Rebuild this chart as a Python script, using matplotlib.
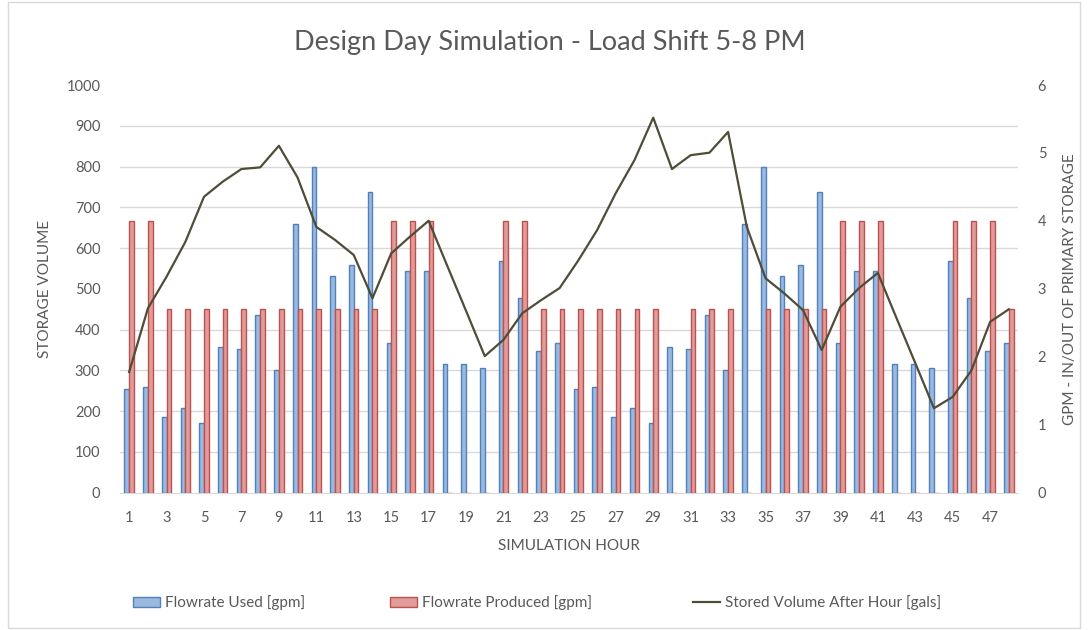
import numpy as np
import matplotlib
matplotlib.use("Agg")
import matplotlib.pyplot as plt
from matplotlib.patches import Patch, Rectangle
from matplotlib.lines import Line2D

plt.rcParams['font.family'] = ['Lato', 'DejaVu Sans']

hours = list(range(1, 49))

# Flowrate used [gpm] (right axis)
flow_used = [1.52, 1.55, 1.11, 1.25, 1.02, 2.14, 2.11, 2.61, 1.81, 3.96, 4.80, 3.19,
             3.35, 4.43, 2.20, 3.26, 3.26, 1.90, 1.90, 1.84, 3.41, 2.87, 2.08, 2.20,
             1.52, 1.55, 1.11, 1.25, 1.02, 2.14, 2.11, 2.61, 1.81, 3.96, 4.80, 3.19,
             3.35, 4.43, 2.20, 3.26, 3.26, 1.90, 1.90, 1.84, 3.41, 2.87, 2.08, 2.20]

# Flowrate produced [gpm] (right axis)
flow_prod = [4.0, 4.0, 2.7, 2.7, 2.7, 2.7, 2.7, 2.7, 2.7, 2.7, 2.7, 2.7,
             2.7, 2.7, 4.0, 4.0, 4.0, 0.0, 0.0, 0.0, 4.0, 4.0, 2.7, 2.7,
             2.7, 2.7, 2.7, 2.7, 2.7, 0.0, 2.7, 2.7, 2.7, 0.0, 2.7, 2.7,
             2.7, 2.7, 4.0, 4.0, 4.0, 0.0, 0.0, 0.0, 4.0, 4.0, 4.0, 2.7]

# Stored volume after hour [gals] (left axis)
stored = [296, 452, 530, 615, 726, 763, 794, 798, 851, 773, 652, 620,
          583, 477, 587, 628, 667, 556, 446, 335, 375, 440, 472, 502,
          570, 644, 735, 816, 920, 794, 828, 834, 885, 652, 526, 489,
          448, 350, 456, 502, 539, 428, 318, 207, 235, 300, 419, 450]

x_labels = [str(h) if h % 2 == 1 else "" for h in hours]

TXT = '#595959'
GRID = '#D9D9D9'

fig = plt.figure(figsize=(10.89, 6.30), dpi=100)
ax = fig.add_axes([0.110, 0.218, 0.825, 0.647])
ax2 = ax.twinx()
ax.set_zorder(ax2.get_zorder() + 1)
ax.patch.set_visible(False)

x = np.array(hours)
w = 0.25
ax2.bar(x - w / 2, flow_used, width=w, facecolor='#9BB8DE', edgecolor='#4F81BD', linewidth=1.0,
        label='Flowrate Used [gpm]', zorder=3)
ax2.bar(x + w / 2, flow_prod, width=w, facecolor='#DE9C9A', edgecolor='#C0504D', linewidth=1.0,
        label='Flowrate Produced [gpm]', zorder=3)
ax.plot(x, stored, color='#4F4C38', linewidth=1.6, label='Stored Volume After Hour [gals]', zorder=4)

ax.set_xlim(0.5, 48.5)
ax.set_ylim(0, 1000)
ax2.set_ylim(0, 6)
ax.set_yticks(np.arange(0, 1001, 100))
ax2.set_yticks(np.arange(0, 7, 1))
ax2.set_yticks(np.linspace(0, 6, 11), minor=True)
ax2.grid(which='minor', axis='y', color=GRID, linewidth=1.0, zorder=0)
ax2.set_axisbelow(True)
ax.set_xticks(hours)
ax.set_xticklabels(x_labels)

for a in (ax, ax2):
    for s in a.spines.values():
        s.set_visible(False)
ax2.spines['bottom'].set_visible(True)
ax2.spines['bottom'].set_color(GRID)

ax.tick_params(axis='y', length=0, pad=14, labelsize=10.5, labelcolor=TXT)
ax2.tick_params(axis='y', which='both', length=0, pad=14, labelsize=10.5, labelcolor=TXT)
ax.tick_params(axis='x', length=0, pad=13, labelsize=10.5, labelcolor=TXT)

ax.set_xlabel('SIMULATION HOUR', color=TXT, fontsize=11, labelpad=10)
ax.set_ylabel('STORAGE VOLUME', color=TXT, fontsize=11, labelpad=10)
ax2.set_ylabel('GPM - IN/OUT OF PRIMARY STORAGE', color=TXT, fontsize=11, labelpad=12)

fig.text(0.505, 0.933, 'Design Day Simulation - Load Shift 5-8 PM', ha='center', va='center',
         fontsize=19.5, color=TXT)

handles = [Patch(facecolor='#9BB8DE', edgecolor='#4F81BD', label='Flowrate Used [gpm]'),
           Patch(facecolor='#DE9C9A', edgecolor='#C0504D', label='Flowrate Produced [gpm]'),
           Line2D([0], [0], color='#4F4C38', linewidth=1.6, label='Stored Volume After Hour [gals]')]
leg_x = [0.122, 0.358, 0.636]
for h, lx in zip(handles, leg_x):
    leg = fig.legend(handles=[h], loc='center left', bbox_to_anchor=(lx, 0.043),
                     frameon=False, fontsize=11, handlelength=1.8, handletextpad=0.3,
                     borderaxespad=0, borderpad=0)
    for t in leg.get_texts():
        t.set_color(TXT)

fig.patches.append(Rectangle((0.007, 0.003), 0.985, 0.994, transform=fig.transFigure,
                             fill=False, edgecolor=GRID, linewidth=1.0))

fig.savefig('out.png', dpi=100)
